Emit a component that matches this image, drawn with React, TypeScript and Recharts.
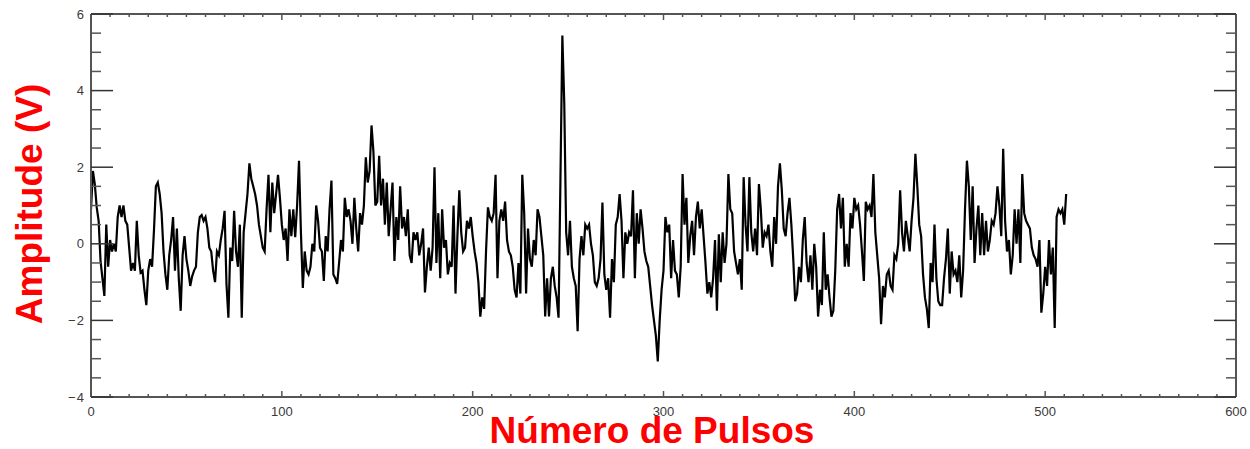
import React from 'react';
import { LineChart, Line, XAxis, YAxis } from 'recharts';

// ---- data: amplitude (V) per pulse ----
const amp000 = [0.9, 1.9, 1.55, 0.95, 0.6, -0.45, -0.9, -1.36, 0.5, -0.6,
  0.1, -0.2, 0.0, -0.2, 0.7, 1.0, 0.7, 1.0, 0.6, 0.5,
  -0.1, -0.7, -0.5, -0.7, 0.6, -0.3, -0.75, -0.7, -1.2, -1.6,
  -0.7, -0.4, -0.6, 0.35, 1.5, 1.6, 1.3, 0.8, -0.2, -0.8,
  -1.2, -0.3, 0.1, 0.7, -0.7, 0.4, -0.9, -1.75, -0.3, 0.2,
  -0.4, -0.7, -1.1, -0.85, -0.7, -0.6, 0.3, 0.7, 0.75, 0.6,
  0.7, 0.4, -0.1, -0.2, -0.7];
const amp065 = [-1.0, -0.2, -0.3, 0.1, 0.4, 0.86, -1.06, -1.93, -0.1, -0.45,
  0.86, -0.2, -0.6, 0.5, -1.93, 0.3, 0.8, 1.3, 2.1,
  1.7, 1.5, 1.3, 1.0, 0.5, 0.2, -0.1, -0.2, 0.9, 1.8,
  0.3, 1.6, 0.8, 1.3, 1.8, 1.2, 0.5, 0.1, 0.4, -0.45,
  0.9, 0.2, 0.9, 0.17, 1.0, 2.17, 0.3, -1.15, -0.2, -0.7,
  -0.8, -0.6, 0.0, -0.2, 1.0, 0.6];
const amp120 = [-0.1, -0.2, -0.97, 0.2, -0.2, 0.9, 1.65, -0.8, -0.9, -1.05,
  -0.5, 0.1, -0.2, 1.2, 0.7, 0.9, 0.6, 0.0, 1.2, 0.4,
  -0.2, 0.8, 0.5, 1.0, 2.26, 1.6, 1.9, 3.09, 2.4, 1.0,
  1.1, 2.3, 1.0, 1.7, 0.5, 1.6, 0.2, 0.9, 1.6, -0.45,
  0.7, 0.1, 1.5, 0.4, 0.7, 0.2, 0.9, -0.3, -0.5, 0.3,
  0.1, 0.3, -0.3, 0.0, 0.4, -1.27];
const amp176 = [-0.6, -0.1, -0.7, -0.1, 2.0, -0.5, 0.8, -0.9, 0.9, -0.1,
  0.1, -0.8, -0.5, -0.6, 1.0, -1.3, 0.2, 1.4, 0.3, -0.2,
  -0.1, 0.6, 0.4, 0.7, 0.2, -0.2, -0.5, -1.0, -1.9, -1.4,
  -1.7, -0.2, 0.95, 0.7, 0.6, 0.8, 1.8, -0.9, 0.6, 0.9,
  0.6, 1.1, 0.1, -0.2, -0.3, -0.6, -1.2, -1.4, -0.5, -1.3,
  1.8, 0.8, -1.3, 0.4, -0.4];
const amp231 = [-0.6, 0.1, -0.3, 0.9, 0.7, 0.2, -0.3, -1.9, -0.9, -1.9,
  -0.9, -0.6, -1.1, -1.4, -1.93, 1.7, 5.44, 3.66, 0.3,
  -0.3, 0.6, -0.6, -0.9, -1.1, -2.28, -0.4, 0.2, -0.3, 0.5,
  0.4, 0.5, 0.0, -0.3, -1.0, -1.1, -0.9, -0.4, 1.08, -0.8,
  -1.2, -0.9, -1.93, -0.4, -1.0, 0.5, 0.7, 1.3, 0.6, -0.9,
  0.3, 0.0, 0.3, 0.2, 1.4];
const amp285 = [-0.9, 0.8, 0.0, 0.9, 0.4, -0.2, -0.45, -0.6, -1.1, -1.6,
  -2.0, -2.4, -3.07, -2.0, -1.2, -0.7, 0.7, 0.3, 0.5, -0.9,
  0.1, -0.7, -0.8, -1.4, -0.6, 1.82, 0.5, 1.2, -0.5, 0.2,
  0.6, -0.3, 0.7, 1.1, 0.4, 0.9, 0.2, -0.5, -1.3, -1.0,
  -1.4, -0.9, 0.1, -1.75, 0.25, -1.0, 0.3, -0.5, 0.0, 1.82,
  0.9, 0.8, -0.2, -0.5, -0.8, -0.4, -1.2];
const amp342 = [1.74, 0.5, -0.2, 1.74, 0.3, -0.2, 0.4, -0.3, 1.56, 0.9,
  -0.1, 0.3, 0.2, 0.5, -0.2, -0.6, 0.7, 0.0, 1.5, 2.1,
  1.4, 0.4, 0.2, 0.8, 1.2, 0.5, -0.4, -1.5, -1.3,
  -0.6, -1.0, 0.1, 0.7, -0.5, -1.0, -0.3, -1.2, 0.0, -0.6,
  -1.9, -1.2, -1.6, 0.3, -1.2, -0.8, -1.4, -1.9, -1.75, -0.7,
  0.9, 1.3, 0.4, 1.2];
const amp395 = [-0.6, 0.0, -0.6, 0.8, 0.4, 1.2, 0.9, 1.0, 0.5, -0.2,
  -0.97, 1.1, 0.9, 1.0, 0.7, 1.82, 0.3, -0.3, -0.9, -2.1,
  -1.1, -1.4, -0.8, -0.7, -1.1, -1.2, -0.3, -0.4, 0.0, 1.4,
  0.3, -0.2, 0.6, 0.2, -0.2, 0.6, 1.2, 2.35, 1.5, 0.5,
  0.2, -0.8, -1.4, -1.7, -2.2, -0.5, -1.0, 0.5, -0.9, -1.5,
  -1.6, -1.6, -0.9, -0.4, 0.4, -1.3];
const amp451 = [-0.2, -0.8, -0.7, -1.0, -0.3, -1.4, -0.7, 0.9, 2.17, 1.5,
  0.1, 1.5, -0.5, 0.4, 1.0, -0.3, 0.8, -0.3, 0.6, -0.2,
  0.1, 0.6, 0.5, 0.8, 1.5, 1.0, 0.2, 2.48, 0.6, -0.2,
  0.1, -0.8, -0.3, 0.9, 0.0, 0.9, -0.5, 1.82, 0.8, 0.6,
  0.5, 0.4, -0.1, -0.3, -0.4, -0.6, 0.1, -1.8, -1.3, -0.6,
  -1.1, 0.1, -0.8, -0.1, -2.2, 0.7, 0.9, 0.8, 0.9, 0.5,
  1.3];

const amplitudes = [
  ...amp000, ...amp065, ...amp120, ...amp176, ...amp231,
  ...amp285, ...amp342, ...amp395, ...amp451,
];
const data = amplitudes.map((amp, pulse) => ({ pulse, amp }));

// ---- axes ----
const xDomain = [0, 600];
const yDomain = [-4, 6];
const xMajorTicks = [0, 100, 200, 300, 400, 500, 600];
const yMajorTicks = [-4, -2, 0, 2, 4, 6];
const xAllTicks = Array.from({ length: 61 }, (_, k) => k * 10);
const yAllTicks = Array.from({ length: 21 }, (_, k) => -4 + k * 0.5);

const xTitle = 'Número de Pulsos';
const yTitle = 'Amplitude (V)';

const W = 1250;
const H = 449;
const PLOT_LEFT = 91;
const PLOT_TOP = 14;
const PLOT_RIGHT = 1236;
const PLOT_BOTTOM = 397;

const BOTTOM_AXIS_H = 30;
const TOP_AXIS_H = 8;
const LEFT_AXIS_W = 60;
const RIGHT_AXIS_W = 8;

const AXIS = '#555555';
const TICK_TEXT = '#3a3a3a';
const FONT = '"Liberation Sans", Arial, Helvetica, sans-serif';

const isMajor = (v: number, list: number[]) => list.some((m) => Math.abs(m - v) < 1e-6);
const fmt = (v: number) => (v < 0 ? '\u2212\u200a' + Math.abs(v) : String(v));

const BottomTick = (p: any) => {
  const { x, y, payload } = p;
  const major = isMajor(payload.value, xMajorTicks);
  return (
    <g>
      <line x1={x} x2={x} y1={y} y2={y - (major ? 6 : 3)} stroke={AXIS} strokeWidth={1.5} />
      {major && (
        <text x={x} y={y + 19} textAnchor="middle" fontSize={13} fill={TICK_TEXT} fontFamily={FONT}>
          {fmt(payload.value)}
        </text>
      )}
    </g>
  );
};

const TopTick = (p: any) => {
  const { x, y, payload } = p;
  const major = isMajor(payload.value, xMajorTicks);
  return <line x1={x} x2={x} y1={y} y2={y + (major ? 6 : 3)} stroke={AXIS} strokeWidth={1.5} />;
};

const LeftTick = (p: any) => {
  const { x, y, payload } = p;
  const major = isMajor(payload.value, yMajorTicks);
  return (
    <g>
      <line x1={x} x2={x + (major ? 22 : 10)} y1={y} y2={y} stroke={major ? '#333' : AXIS} strokeWidth={1.5} />
      {major && (
        <text x={x - 7} y={y + 4.5} textAnchor="end" fontSize={13} fill={TICK_TEXT} fontFamily={FONT}>
          {fmt(payload.value)}
        </text>
      )}
    </g>
  );
};

const RightTick = (p: any) => {
  const { x, y, payload } = p;
  const major = isMajor(payload.value, yMajorTicks);
  return <line x1={x} x2={x - (major ? 22 : 10)} y1={y} y2={y} stroke={major ? '#333' : AXIS} strokeWidth={1.5} />;
};

export default function App() {
  return (
    <div style={{ position: 'absolute', left: 0, top: 0, width: W, height: H, background: '#fff' }}>
      <svg
        width={W}
        height={H}
        style={{ position: 'absolute', left: 0, top: 0, pointerEvents: 'none' }}
      >
        <text
          x={652}
          y={443}
          textAnchor="middle"
          fontSize={37}
          fontWeight="bold"
          fill="#ff0000"
          fontFamily={FONT}
        >
          {xTitle}
        </text>
        <text
          x={42}
          y={204}
          transform="rotate(-90 42 204)"
          textAnchor="middle"
          fontSize={37}
          fontWeight="bold"
          fill="#ff0000"
          fontFamily={FONT}
        >
          {yTitle}
        </text>
      </svg>
      <div style={{ position: 'absolute', left: 0, top: 0 }}>
        <LineChart
          width={W}
          height={H}
          data={data}
          margin={{
            top: PLOT_TOP - TOP_AXIS_H,
            right: W - PLOT_RIGHT - RIGHT_AXIS_W,
            bottom: H - PLOT_BOTTOM - BOTTOM_AXIS_H,
            left: PLOT_LEFT - LEFT_AXIS_W,
          }}
        >
          <XAxis
            xAxisId="bottom"
            dataKey="pulse"
            type="number"
            domain={xDomain}
            ticks={xAllTicks}
            interval={0}
            height={BOTTOM_AXIS_H}
            tickSize={0}
            tickMargin={0}
            tickLine={false}
            axisLine={{ stroke: AXIS, strokeWidth: 2 }}
            tick={<BottomTick />}
            allowDataOverflow
          />
          <XAxis
            xAxisId="top"
            orientation="top"
            dataKey="pulse"
            type="number"
            domain={xDomain}
            ticks={xAllTicks}
            interval={0}
            height={TOP_AXIS_H}
            tickSize={0}
            tickMargin={0}
            tickLine={false}
            axisLine={{ stroke: AXIS, strokeWidth: 2 }}
            tick={<TopTick />}
            allowDataOverflow
          />
          <YAxis
            yAxisId="left"
            type="number"
            domain={yDomain}
            ticks={yAllTicks}
            interval={0}
            width={LEFT_AXIS_W}
            tickSize={0}
            tickMargin={0}
            tickLine={false}
            axisLine={{ stroke: AXIS, strokeWidth: 2 }}
            tick={<LeftTick />}
            allowDataOverflow
          />
          <YAxis
            yAxisId="right"
            orientation="right"
            type="number"
            domain={yDomain}
            ticks={yAllTicks}
            interval={0}
            width={RIGHT_AXIS_W}
            tickSize={0}
            tickMargin={0}
            tickLine={false}
            axisLine={{ stroke: AXIS, strokeWidth: 2 }}
            tick={<RightTick />}
            allowDataOverflow
          />
          <Line
            xAxisId="bottom"
            yAxisId="left"
            type="linear"
            dataKey="amp"
            stroke="#000"
            strokeWidth={2.2}
            dot={false}
            isAnimationActive={false}
          />
        </LineChart>
      </div>
    </div>
  );
}
